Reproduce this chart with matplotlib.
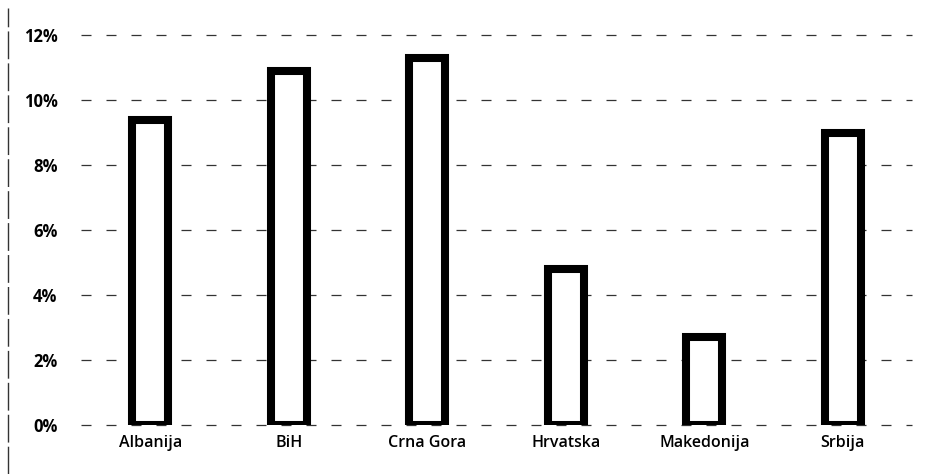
import matplotlib
matplotlib.use("Agg")
import matplotlib.pyplot as plt
from matplotlib.lines import Line2D
from matplotlib.ticker import FuncFormatter

categories = ["Albanija", "BiH", "Crna Gora", "Hrvatska", "Makedonija", "Srbija"]
values = [9.4, 10.9, 11.3, 4.8, 2.7, 9.0]
yticks = [0, 2, 4, 6, 8, 10, 12]

plt.rcParams['font.family'] = ['Open Sans', 'DejaVu Sans']

fig = plt.figure(figsize=(9.26, 4.74), dpi=100)
ax = fig.add_axes([0.0875, 0.1034, 0.8975, 0.8226])

x = list(range(len(categories)))
ax.bar(x, values, width=0.26, color='white', edgecolor='black', linewidth=5.8, zorder=3)

ax.set_xlim(-0.5, len(categories) - 0.5)
ax.set_ylim(0, 12)
ax.set_yticks(yticks)
ax.yaxis.set_major_formatter(FuncFormatter(lambda v, p: f"{int(v)}%"))
ax.set_xticks(x)
ax.set_xticklabels(categories)

ax.grid(axis='y', color='#333333', linestyle=(0, (8, 12)), linewidth=0.9, zorder=0)
for gl in ax.get_ygridlines():
    gl.set_clip_on(False)
ax.tick_params(axis='both', length=0)
ax.tick_params(axis='y', pad=17, labelsize=12)
ax.tick_params(axis='x', pad=7, labelsize=11.5)
for lbl in ax.get_xticklabels():
    lbl.set_fontweight('semibold')
for lbl in ax.get_yticklabels():
    lbl.set_fontweight('bold')
for s in ax.spines.values():
    s.set_visible(False)

# left border line of scanned page
fig.add_artist(Line2D([8 / 926, 8 / 926], [0, 1 - 8 / 474], transform=fig.transFigure,
                      color='#333333', linewidth=1.0, linestyle=(0, (20, 3))))

fig.savefig("out.png", dpi=100)
